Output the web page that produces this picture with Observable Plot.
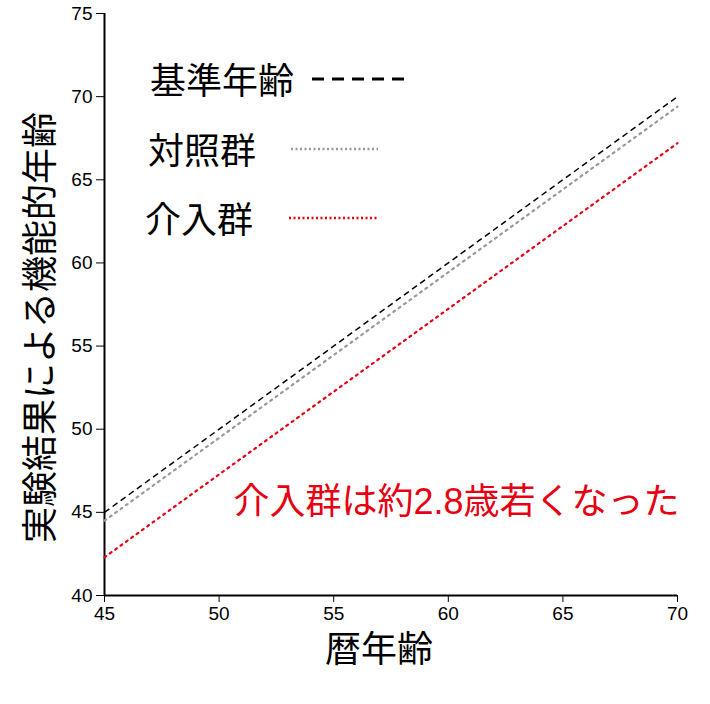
<!DOCTYPE html>
<html>
<head>
<meta charset="utf-8">
<script src="https://cdn.jsdelivr.net/npm/d3@7"></script>
<script src="https://cdn.jsdelivr.net/npm/@observablehq/plot@0.6"></script>
<style>
  html, body { margin: 0; padding: 0; background: #fff; }
  #wrap { position: relative; width: 710px; height: 704px; overflow: hidden; }
  .leg { position: absolute; font-family: "Noto Sans CJK JP", sans-serif; font-size: 36px; color: #000; line-height: 1; white-space: nowrap; }
  .legline { position: absolute; }
</style>
</head>
<body>
<div id="wrap"></div>
<script>
// Data
const ages = [45, 70];                 // 暦年齢 (x)
const baseline = [45, 70];             // 基準年齢
const control = [44.5, 69.4];          // 対照群
const intervention = [42.3, 67.2];     // 介入群
const xTicks = [45, 50, 55, 60, 65, 70];
const yTicks = [40, 45, 50, 55, 60, 65, 70, 75];
const seriesNames = ["基準年齢", "対照群", "介入群"];
const seriesColors = ["#000000", "#999999", "#e60012"];
const seriesDash = ["6,4", "2,4.6", "2,4.6"];
const xLabel = "暦年齢";
const yLabel = "実験結果による機能的年齢";
const note = "介入群は約2.8歳若くなった";

const rows = [];
[baseline, control, intervention].forEach((vals, i) => {
  ages.forEach((a, j) => rows.push({series: seriesNames[i], x: a, y: vals[j]}));
});

const cjk = "'Liberation Sans', 'Noto Sans CJK JP', sans-serif";

const marks = [
  Plot.axisX({ticks: xTicks, tickSize: 7, tickPadding: 4, fontSize: 19, label: null}),
  Plot.axisY({ticks: yTicks, tickSize: 8, tickPadding: 4, fontSize: 19, label: null}),
  Plot.ruleX([45], {stroke: "#000", strokeWidth: 2}),
  Plot.ruleY([40], {stroke: "#000", strokeWidth: 2}),
];
seriesNames.forEach((name, i) => {
  marks.push(Plot.line(rows.filter(d => d.series === name), {
    x: "x", y: "y", stroke: seriesColors[i],
    strokeWidth: i === 0 ? 1.5 : 2.2,
    strokeDasharray: seriesDash[i],
    strokeLinecap: i === 0 ? "butt" : "round"
  }));
});
marks.push(
  Plot.text([xLabel], {frameAnchor: "bottom", dx: -12, dy: 66, fontSize: 36, fontFamily: cjk, fill: "#000"}),
  Plot.text([yLabel], {frameAnchor: "left", textAnchor: "middle", lineAnchor: "middle", rotate: -90, dx: -63, dy: 23, fontSize: 36, fontFamily: cjk, fill: "#000"}),
  Plot.text([note], {frameAnchor: "bottom-right", textAnchor: "end", lineAnchor: "middle", dx: 2, dy: -93, fontSize: 36, fontFamily: cjk, fill: "#e60012"})
);

const chart = Plot.plot({
  width: 710,
  height: 704,
  marginLeft: 104,
  marginRight: 33,
  marginTop: 13,
  marginBottom: 109,
  style: {background: "#fff", overflow: "visible", fontFamily: "Liberation Sans, sans-serif", color: "#000"},
  x: {domain: [45, 70]},
  y: {domain: [40, 75]},
  marks
});
const wrap = document.getElementById("wrap");
wrap.appendChild(chart);

// enlarge numeric tick labels
d3.select(chart).selectAll("text").each(function() {
  if (/^\d+$/.test(this.textContent.trim())) {
    this.style.fontSize = "19px";
    this.setAttribute("font-size", "19");
    this.style.fontFamily = "'Liberation Sans', Arial, sans-serif";
  }
});

// Legend overlay
const legPos = [
  {tx: 150, ty: 60, lx1: 312, lx2: 410, ly: 79, w: 3, dash: "12,8"},
  {tx: 148, ty: 130, lx1: 291, lx2: 378, ly: 149, w: 2.5, dash: "2,2.5"},
  {tx: 145, ty: 199, lx1: 289, lx2: 377, ly: 218, w: 2.5, dash: "2,2.5"}
];
seriesNames.forEach((name, i) => {
  const p = legPos[i];
  const t = document.createElement("div");
  t.className = "leg";
  t.style.left = p.tx + "px";
  t.style.top = p.ty + "px";
  t.textContent = name;
  wrap.appendChild(t);
  const svg = d3.create("svg").attr("class", "legline")
    .attr("width", p.lx2 - p.lx1).attr("height", 10)
    .style("left", p.lx1 + "px").style("top", (p.ly - 5) + "px");
  svg.append("line").attr("x1", 0).attr("x2", p.lx2 - p.lx1).attr("y1", 5).attr("y2", 5)
    .attr("stroke", seriesColors[i]).attr("stroke-width", p.w).attr("stroke-dasharray", p.dash);
  wrap.appendChild(svg.node());
});
</script>
</body>
</html>
